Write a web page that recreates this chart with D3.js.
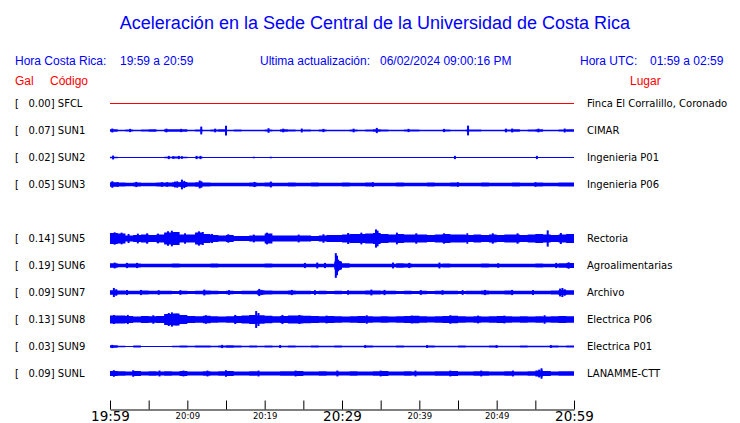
<!DOCTYPE html>
<html><head><meta charset="utf-8">
<script src="https://cdn.jsdelivr.net/npm/d3@7"></script>
<style>
html,body{margin:0;padding:0;background:#fff;}
svg{display:block;}
text{white-space:pre;}
</style></head>
<body>
<svg id="chart" width="740" height="423"></svg>
<script>
// ---------------- DATA ----------------
const title = "Aceleración en la Sede Central de la Universidad de Costa Rica";
const localRange = "19:59 a 20:59";
const utcRange = "01:59 a 02:59";
const updated = "06/02/2024 09:00:16 PM";

const codes  = ["SFCL","SUN1","SUN2","SUN3","SUN5","SUN6","SUN7","SUN8","SUN9","SUNL"];
const places = ["Finca El Corralillo, Coronado","CIMAR","Ingenieria P01","Ingenieria P06","Rectoria","Agroalimentarias","Archivo","Electrica P06","Electrica P01","LANAMME-CTT"];
const peakGal = [0.00,0.07,0.02,0.05,0.14,0.19,0.09,0.13,0.03,0.09];
const rowSlot = [0,1,2,3,5,6,7,8,9,10];

const tickMinutes = [0,5,10,15,20,25,30,35,40,45,50,55,60];
const tickLabels  = ["19:59","","20:09","","20:19","","20:29","","20:39","","20:49","","20:59"];
const majorTicks  = ["19:59","20:29","20:59"];

// envelope (half amplitude, gal) per minute, 60 values
const envSFCL = new Array(60).fill(0);
const envSUN1 = [0.02,0.012,0.016,0.01,0.016,0.018,0.01,0.02,0.02,0.018,0.01,0.016,0.012,0.016,0.018,0.012,0.016,0.012,0.01,0.012,0.016,0.012,0.018,0.016,0.012,0.016,0.012,0.014,0.01,0.012,0.012,0.016,0.012,0.016,0.018,0.014,0.01,0.012,0.016,0.014,0.012,0.012,0.01,0.016,0.012,0.012,0.016,0.014,0.012,0.01,0.012,0.016,0.018,0.012,0.016,0.018,0.012,0.012,0.016,0.02];
const envSUN2 = [0.01,0.003,0.003,0.003,0.003,0.003,0.003,0.012,0.016,0.012,0.003,0.01,0.003,0.003,0.003,0.003,0.003,0.003,0.003,0.003,0.003,0.003,0.003,0.003,0.003,0.003,0.003,0.003,0.003,0.003,0.003,0.003,0.003,0.003,0.003,0.003,0.003,0.003,0.003,0.003,0.003,0.003,0.003,0.003,0.006,0.003,0.003,0.003,0.003,0.003,0.003,0.003,0.003,0.003,0.003,0.006,0.003,0.003,0.003,0.003];
const envSUN3 = [0.034,0.03,0.028,0.03,0.028,0.028,0.03,0.032,0.036,0.038,0.03,0.034,0.03,0.028,0.028,0.028,0.028,0.028,0.03,0.028,0.032,0.028,0.028,0.03,0.028,0.028,0.03,0.028,0.028,0.028,0.03,0.028,0.028,0.03,0.028,0.028,0.028,0.03,0.028,0.028,0.028,0.03,0.028,0.028,0.03,0.028,0.028,0.028,0.03,0.028,0.028,0.028,0.03,0.028,0.028,0.03,0.028,0.028,0.03,0.032];
const envSUN5 = [0.085,0.077,0.046,0.054,0.062,0.054,0.062,0.092,0.1,0.062,0.062,0.092,0.07,0.054,0.046,0.054,0.038,0.038,0.046,0.046,0.077,0.046,0.046,0.046,0.046,0.046,0.038,0.046,0.054,0.054,0.062,0.07,0.07,0.077,0.085,0.07,0.062,0.07,0.062,0.062,0.062,0.054,0.062,0.07,0.062,0.062,0.054,0.062,0.054,0.062,0.054,0.062,0.062,0.054,0.062,0.07,0.062,0.054,0.062,0.07];
const envSUN6 = [0.035,0.026,0.032,0.03,0.026,0.026,0.026,0.026,0.03,0.026,0.026,0.026,0.026,0.03,0.026,0.026,0.026,0.026,0.026,0.026,0.03,0.026,0.026,0.026,0.026,0.026,0.026,0.026,0.026,0.06,0.035,0.026,0.026,0.026,0.026,0.026,0.026,0.035,0.032,0.026,0.026,0.026,0.026,0.032,0.026,0.026,0.026,0.026,0.03,0.026,0.026,0.026,0.026,0.026,0.026,0.03,0.026,0.026,0.035,0.04];
const envSUN7 = [0.034,0.03,0.028,0.026,0.03,0.026,0.028,0.026,0.024,0.026,0.024,0.026,0.03,0.026,0.024,0.026,0.024,0.026,0.028,0.034,0.03,0.028,0.026,0.03,0.028,0.026,0.024,0.026,0.024,0.026,0.024,0.026,0.028,0.03,0.03,0.028,0.026,0.024,0.026,0.024,0.026,0.024,0.026,0.028,0.026,0.024,0.026,0.028,0.03,0.028,0.026,0.03,0.028,0.026,0.028,0.026,0.028,0.03,0.04,0.034];
const envSUN8 = [0.06,0.062,0.054,0.046,0.054,0.05,0.054,0.085,0.092,0.07,0.054,0.05,0.058,0.05,0.046,0.05,0.054,0.062,0.07,0.066,0.058,0.05,0.054,0.062,0.062,0.058,0.054,0.05,0.054,0.05,0.046,0.05,0.054,0.05,0.046,0.05,0.046,0.05,0.054,0.058,0.05,0.046,0.05,0.054,0.058,0.05,0.046,0.05,0.046,0.05,0.054,0.05,0.046,0.05,0.046,0.05,0.046,0.05,0.054,0.05];
const envSUN9 = [0.018,0.012,0.008,0.014,0.008,0.006,0.006,0.008,0.012,0.014,0.01,0.014,0.016,0.012,0.016,0.018,0.014,0.012,0.016,0.012,0.014,0.01,0.012,0.014,0.01,0.012,0.014,0.01,0.012,0.014,0.012,0.01,0.012,0.014,0.012,0.01,0.012,0.014,0.012,0.01,0.012,0.014,0.012,0.01,0.012,0.014,0.012,0.01,0.012,0.014,0.012,0.01,0.012,0.014,0.012,0.01,0.012,0.014,0.012,0.014];
const envSUNL = [0.04,0.034,0.03,0.038,0.032,0.036,0.03,0.034,0.03,0.038,0.032,0.03,0.034,0.03,0.036,0.038,0.032,0.03,0.034,0.03,0.032,0.03,0.034,0.036,0.038,0.032,0.03,0.034,0.03,0.032,0.03,0.034,0.032,0.03,0.036,0.038,0.032,0.03,0.034,0.03,0.032,0.03,0.034,0.036,0.038,0.032,0.03,0.034,0.036,0.032,0.03,0.034,0.032,0.03,0.036,0.045,0.038,0.032,0.034,0.036];

// transient spikes: [minute, half amplitude gal]
const spkSFCL = [];
const spkSUN1 = [[11.8,0.06],[15.0,0.075],[46.3,0.075],[34.5,0.04],[20.5,0.035],[0.3,0.03],[24.8,0.03],[52,0.03],[58.8,0.03],[2.6,0.025],[7.3,0.028],[9.2,0.025],[13.6,0.028],[22.4,0.028],[27.6,0.025],[31.5,0.028],[38.6,0.025],[43.2,0.025],[51.2,0.028],[55.4,0.028]];
const spkSUN2 = [[0.4,0.03],[7.6,0.025],[8.2,0.02],[8.9,0.025],[9.3,0.02],[11.2,0.025],[11.7,0.025],[18.6,0.012],[20.8,0.012],[44.6,0.025],[55.2,0.025]];
const spkSUN3 = [[0.3,0.05],[1,0.035],[3.4,0.04],[6.7,0.035],[7.4,0.035],[8.4,0.045],[8.7,0.05],[9.3,0.075],[9.6,0.055],[11.6,0.06],[11.8,0.05],[18.7,0.04],[20.8,0.045],[34,0.035],[45,0.035],[55,0.035]];
const spkSUN5 = [[8.0,0.12],[7.5,0.11],[11.5,0.11],[12.0,0.1],[0.6,0.095],[1.5,0.09],[4.8,0.08],[20.3,0.09],[34.4,0.14],[34.6,0.12],[56.6,0.125],[13.2,0.07],[18.6,0.06],[3.6,0.075],[27.6,0.065],[43.2,0.08],[2.4,0.07],[6.2,0.075],[9.7,0.08],[15.3,0.065],[24.4,0.06],[30.8,0.085],[32.5,0.09],[37.1,0.09],[39.6,0.08],[46.2,0.08],[49.5,0.08],[52.7,0.08],[58.3,0.085]];
const spkSUN6 = [[29.2,0.19],[29.35,0.15],[29.5,0.09],[29.7,0.07],[25.2,0.04],[26.8,0.045],[27.8,0.04],[36.6,0.045],[38.7,0.04],[42.6,0.045],[0.6,0.045],[2.2,0.04],[3.5,0.04],[50.2,0.035],[57.7,0.04],[59.3,0.05]];
const spkSUN7 = [[0.5,0.07],[0.8,0.05],[4,0.04],[6.3,0.035],[12.2,0.045],[19.3,0.055],[19.6,0.04],[23.5,0.04],[33.8,0.045],[35.5,0.04],[43,0.035],[48.5,0.04],[52,0.04],[58.2,0.06],[58.5,0.07],[58.8,0.05],[2.2,0.038],[9.1,0.036],[15.4,0.036],[26.5,0.036],[30.8,0.036],[40.2,0.036],[45.6,0.036],[54.7,0.038]];
const spkSUN8 = [[8.0,0.11],[7.6,0.1],[8.6,0.09],[18.9,0.13],[19.2,0.1],[0.5,0.07],[12.4,0.065],[24.5,0.07],[28,0.06],[39,0.06],[44,0.065],[51,0.06],[2.3,0.07],[5.6,0.065],[16.2,0.07],[22.3,0.07],[33.2,0.065],[47.6,0.06],[56.2,0.065]];
const spkSUN9 = [[0.3,0.025],[14.5,0.025],[22,0.022],[33,0.022],[41,0.022],[50,0.022],[57,0.022]];
const spkSUNL = [[55.8,0.08],[55.5,0.06],[0.5,0.05],[3,0.05],[9.5,0.045],[15,0.05],[24,0.045],[35,0.045],[44,0.045],[48,0.045],[6.4,0.045],[12.6,0.045],[19.2,0.045],[29.4,0.045],[39.5,0.045],[52.1,0.045]];

const envelopes = [envSFCL,envSUN1,envSUN2,envSUN3,envSUN5,envSUN6,envSUN7,envSUN8,envSUN9,envSUNL];
const spikes    = [spkSFCL,spkSUN1,spkSUN2,spkSUN3,spkSUN5,spkSUN6,spkSUN7,spkSUN8,spkSUN9,spkSUNL];

// ---------------- DRAW ----------------
const svg = d3.select("#chart");
svg.append("rect").attr("width",740).attr("height",423).attr("fill","#fff");

const BLUE = "#0000ff", RED = "#ff0000";
const sans = "'Liberation Sans', Arial, sans-serif";
const dv = "'DejaVu Sans', sans-serif";

svg.append("text").attr("x",375).attr("y",29).attr("text-anchor","middle")
  .attr("font-family",sans).attr("font-size",18).attr("fill",BLUE).text(title);

const hdr = [["Hora Costa Rica:",15],[localRange,120],["Ultima actualización:",260],[updated,380],["Hora UTC:",580],[utcRange,650]];
svg.selectAll("text.hdr").data(hdr).enter().append("text").attr("class","hdr")
  .attr("x",d=>d[1]).attr("y",65).attr("font-family",sans).attr("font-size",12).attr("fill",BLUE).text(d=>d[0]);
const hdr2 = [["Gal",15],["Código",50],["Lugar",630]];
svg.selectAll("text.hdr2").data(hdr2).enter().append("text").attr("class","hdr2")
  .attr("x",d=>d[1]).attr("y",85).attr("font-family",sans).attr("font-size",12).attr("fill",RED).text(d=>d[0]);

const x = d3.scaleLinear().domain([0,60]).range([110,574]);
const yRow = d3.scaleLinear().domain([0,10]).range([103,373]);
const amp = d3.scaleLinear().domain([0,0.2]).range([0,13]);

codes.forEach((code,i)=>{
  const cy = Math.round(yRow(rowSlot[i]));
  const g = svg.append("g");
  const color = i===0 ? RED : BLUE;
  g.append("text").attr("x",15).attr("y",cy+3.6).attr("font-family",dv).attr("font-size",10)
    .attr("fill","#000").text("[   " + peakGal[i].toFixed(2) + "] " + code);
  g.append("text").attr("x",587).attr("y",cy+3.6).attr("font-family",dv).attr("font-size",10)
    .attr("fill","#000").text(places[i]);
  const env = envelopes[i];
  const pts = d3.range(61).map(m=>[m, env[Math.min(m,59)]]);
  const area = d3.area().curve(d3.curveStepAfter)
    .x(d=>x(d[0])).y0(d=>cy+0.5-amp(d[1])).y1(d=>cy+0.5+amp(d[1]));
  g.append("path").attr("d",area(pts)).attr("fill",color);
  g.append("line").attr("x1",x(0)).attr("x2",x(60)).attr("y1",cy+0.5).attr("y2",cy+0.5)
    .attr("stroke",color).attr("stroke-width",1);
  g.selectAll("line.spk").data(spikes[i]).enter().append("line").attr("class","spk")
    .attr("x1",d=>x(d[0])).attr("x2",d=>x(d[0]))
    .attr("y1",d=>cy+0.5-amp(d[1])).attr("y2",d=>cy+0.5+amp(d[1]))
    .attr("stroke",color).attr("stroke-width",2);
});

// time axis
const axis = d3.axisBottom(x).tickValues(tickMinutes)
  .tickFormat((d,i)=>tickLabels[i]).tickSizeInner(-9).tickSizeOuter(0).tickPadding(0);
const ax = svg.append("g").attr("transform","translate(0,409.5)").call(axis);
ax.select(".domain").attr("stroke","#000");
ax.selectAll(".tick line").attr("stroke","#000");
ax.selectAll(".tick text").attr("fill","#000").attr("font-family",dv).attr("dy",null)
  .each(function(d,i){
    const lab = tickLabels[i];
    const big = majorTicks.includes(lab);
    d3.select(this).attr("font-size", big ? 13.5 : 8.5)
      .attr("y", big ? 11.5 : 9.5);
  });
</script>
</body></html>
